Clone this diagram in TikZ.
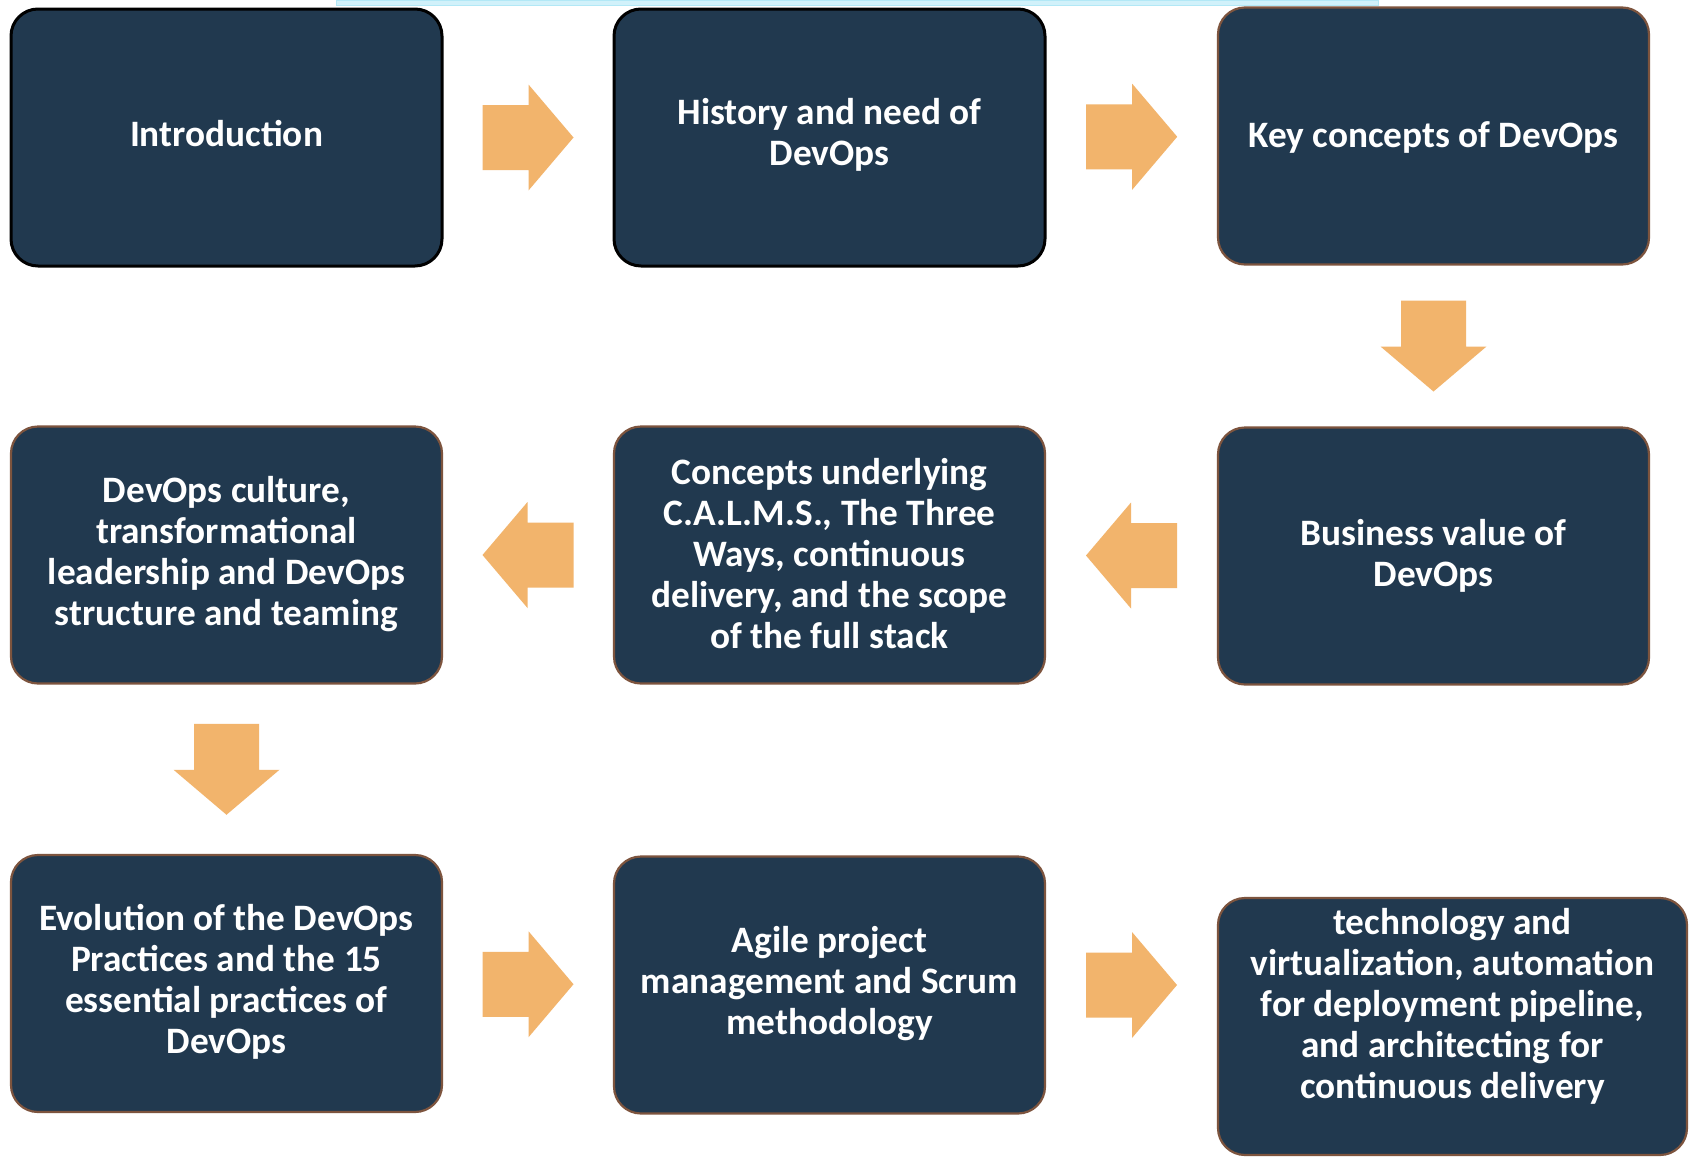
\documentclass[tikz,border=0pt]{standalone}
\usepackage{fontspec}
\setmainfont{Carlito}
\usetikzlibrary{calc}
\definecolor{boxfill}{RGB}{33,57,79}
\definecolor{boxedge}{RGB}{125,84,62}
\definecolor{arrowfill}{RGB}{242,180,108}
\definecolor{topline}{RGB}{178,232,246}
\tikzset{
  stepbox/.style={rectangle, rounded corners=27pt, fill=boxfill, draw=boxedge, line width=2.2pt,
    minimum width=431pt, minimum height=257pt, inner sep=0pt},
  darkedge/.style={draw=black, line width=3pt},
  boxtext/.style={text=white, align=center, font=\fontsize{37.3}{41}\selectfont\bfseries, inner sep=0pt},
  blockarrow/.pic={
    \fill[arrowfill] (-45.5,-32.5) -- (0.5,-32.5) -- (0.5,-53) -- (45.5,0) -- (0.5,53) -- (0.5,32.5) -- (-45.5,32.5) -- cycle;
  }
}
\begin{document}
\begin{tikzpicture}[x=1pt,y=-1pt]
\useasboundingbox (0,0) rectangle (1690,1157);
\fill[white] (0,0) rectangle (1690,1157);
\draw[fill=topline!60, draw=topline, line width=1pt] (336,0) rectangle (1378,5);

\node[stepbox, darkedge] (B1) at (226.5,137.5) {};
\node[stepbox, darkedge] (B2) at (829.5,137.5) {};
\node[stepbox] (B3) at (1433.5,136) {};
\node[stepbox] (B4) at (226.5,555) {};
\node[stepbox] (B5) at (829.5,555) {};
\node[stepbox] (B6) at (1433.5,556) {};
\node[stepbox] (B7) at (226.5,983.5) {};
\node[stepbox] (B8) at (829.5,985) {};
\node[stepbox, minimum width=469pt] (B9) at (1452.5,1026.5) {};

\node[boxtext] (T1) at (226.5,134) {Introduction};
\node[boxtext] (T2) at (829.5,135) {History and need of\\DevOps};
\node[boxtext] (T3) at (1433.5,137) {Key concepts of DevOps};
\node[boxtext] (T4) at (226.5,554) {DevOps culture,\\transformational\\leadership and DevOps\\structure and teaming};
\node[boxtext] (T5) at (829.5,554) {Concepts underlying\\C.A.L.M.S., The Three\\Ways, continuous\\delivery, and the scope\\of the full stack};
\node[boxtext] (T6) at (1433.5,556) {Business value of\\DevOps};
\node[boxtext] (T7) at (226.5,982) {Evolution of the DevOps\\Practices and the 15\\essential practices of\\DevOps};
\node[boxtext] (T8) at (829.5,984) {Agile project\\management and Scrum\\methodology};
\node[boxtext] (T9) at (1452.5,1006) {technology and\\virtualization, automation\\for deployment pipeline,\\and architecting for\\continuous delivery};

\pic at ($(B1.east)!0.5!(B2.west)$) {blockarrow};
\pic at ($(B2.east)!0.5!(B3.west)$) {blockarrow};
\pic[rotate=-90] at ($(B3.south)!0.5!(B6.north)$) {blockarrow};
\pic[rotate=180] at ($(B6.west)!0.5!(B5.east)$) {blockarrow};
\pic[rotate=180] at ($(B5.west)!0.5!(B4.east)$) {blockarrow};
\pic[rotate=-90] at ($(B4.south)!0.5!(B7.north)$) {blockarrow};
\pic at ($(B7.east)!0.5!(B8.west)$) {blockarrow};
\pic at ($(B8.east)!0.5!(B9.west |- B8.east)$) {blockarrow};
\end{tikzpicture}
\end{document}
